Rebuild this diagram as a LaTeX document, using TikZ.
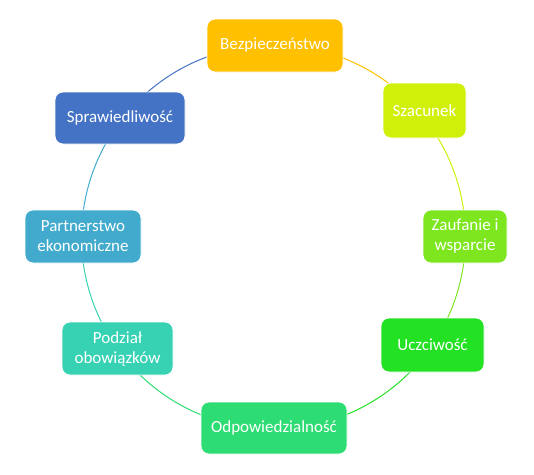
\documentclass[tikz,border=0pt]{standalone}
\usepackage{fontspec}
\setmainfont{Carlito}
\definecolor{cA}{RGB}{255,192,0}
\definecolor{cB}{RGB}{208,240,10}
\definecolor{cC}{RGB}{125,230,30}
\definecolor{cD}{RGB}{35,225,35}
\definecolor{cE}{RGB}{45,220,115}
\definecolor{cF}{RGB}{55,210,180}
\definecolor{cG}{RGB}{65,170,205}
\definecolor{cH}{RGB}{68,114,196}
\begin{document}
\begin{tikzpicture}[x=1pt,y=-1pt,
  box/.style={rounded corners=8pt, draw=white, line width=0.8pt, text=white,
    font=\fontsize{17}{20}\selectfont, align=center, inner sep=0pt},
  arcline/.style={line width=1pt}]
\useasboundingbox (0,0) rectangle (534,474);
\coordinate (O) at (273.5,237);
% arcs
\draw[arcline, cA] (O) ++(-90:192) arc[start angle=-90, end angle=-40, radius=192];
\draw[arcline, cB] (O) ++(-40:192) arc[start angle=-40, end angle=0, radius=192];
\draw[arcline, cC] (O) ++(0:192) arc[start angle=0, end angle=34, radius=192];
\draw[arcline, cD] (O) ++(34:192) arc[start angle=34, end angle=90, radius=192];
\draw[arcline, cE] (O) ++(90:192) arc[start angle=90, end angle=144.5, radius=192];
\draw[arcline, cF] (O) ++(144.5:192) arc[start angle=144.5, end angle=180, radius=192];
\draw[arcline, cG] (O) ++(180:192) arc[start angle=180, end angle=218, radius=192];
\draw[arcline, cH] (O) ++(218:192) arc[start angle=218, end angle=270, radius=192];
% nodes
\node[box, fill=cA, minimum width=136pt, minimum height=53pt] (n1) at (275,45.5) {Bezpieczeństwo};
\node[box, fill=cB, minimum width=83pt, minimum height=55pt] (n2) at (424.5,110.5) {Szacunek};
\node[box, fill=cC, minimum width=84pt, minimum height=53pt] (n3) at (465,236.5) {Zaufanie i\\wsparcie};
\node[box, fill=cD, minimum width=103pt, minimum height=54pt] (n4) at (432.5,345) {Uczciwość};
\node[box, fill=cE, minimum width=146pt, minimum height=52pt] (n5) at (274,428) {Odpowiedzialność};
\node[box, fill=cF, minimum width=111pt, minimum height=53pt] (n6) at (117.5,348.5) {Podział\\obowiązków};
\node[box, fill=cG, minimum width=116pt, minimum height=53pt] (n7) at (83,236.5) {Partnerstwo\\ekonomiczne};
\node[box, fill=cH, minimum width=130pt, minimum height=52pt] (n8) at (120,118) {Sprawiedliwość};
\end{tikzpicture}
\end{document}
